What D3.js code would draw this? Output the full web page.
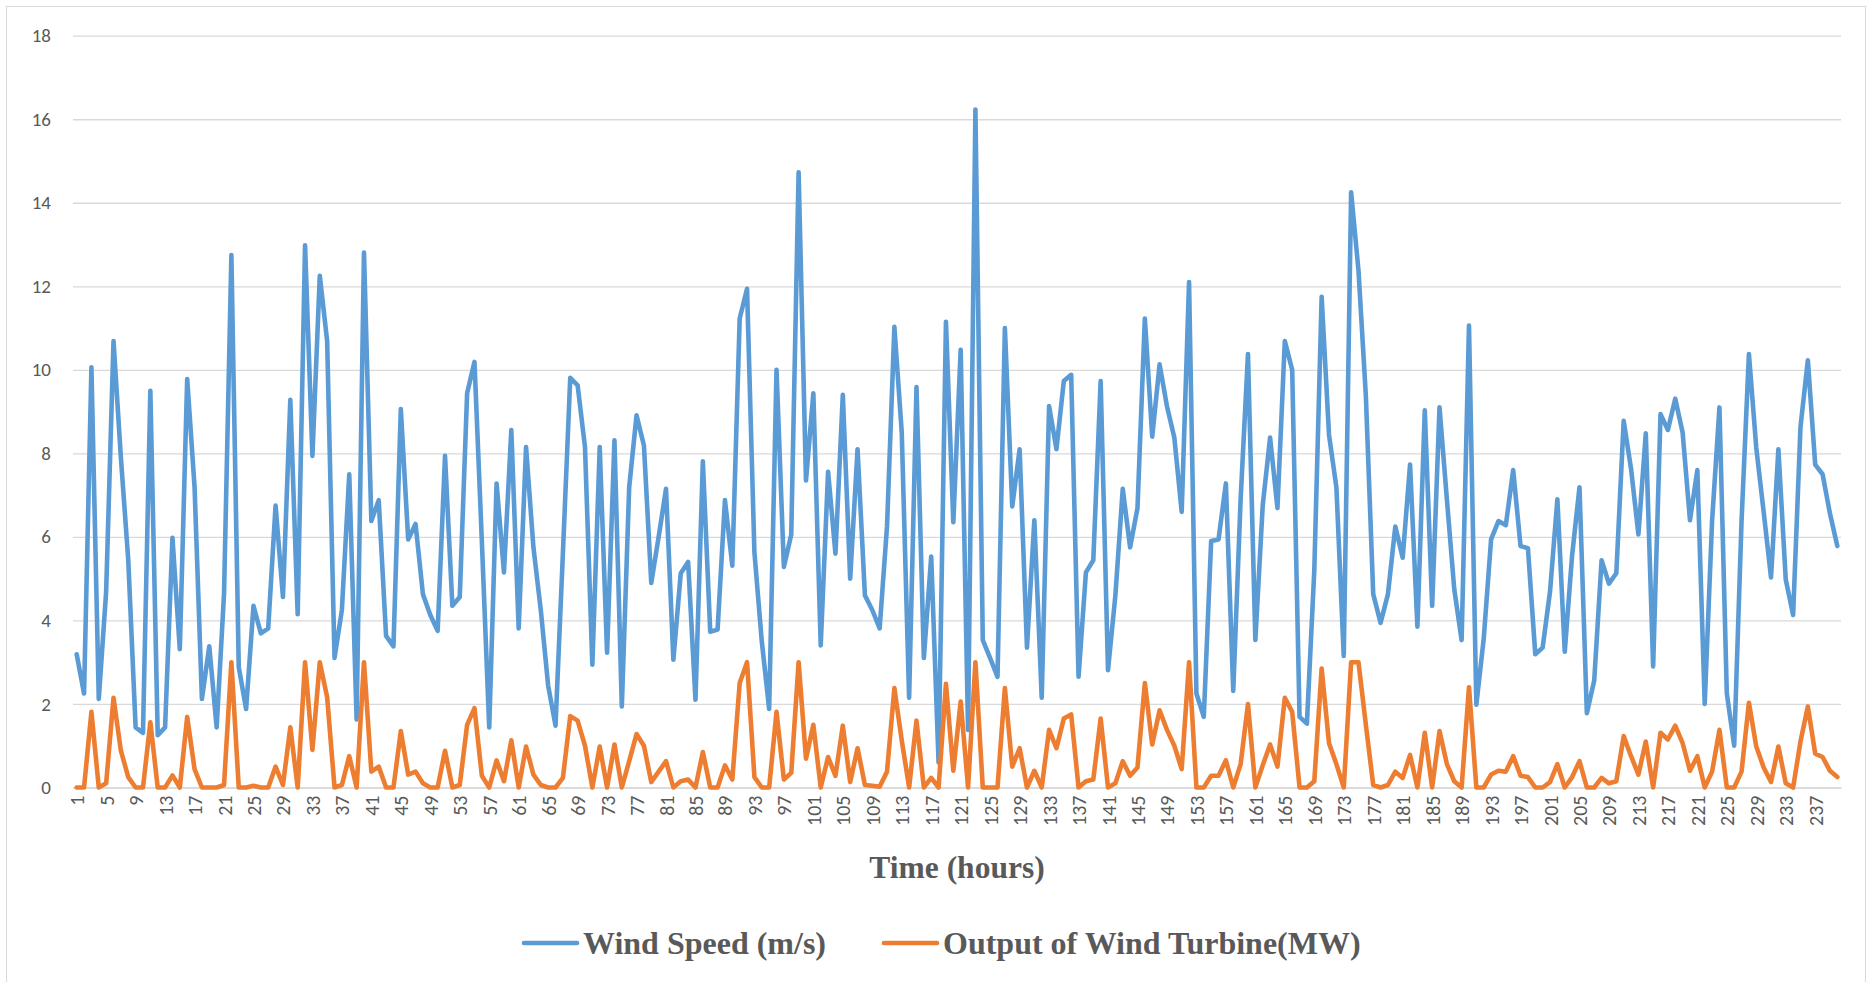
<!DOCTYPE html>
<html>
<head>
<meta charset="utf-8">
<script src="https://cdn.jsdelivr.net/npm/d3@7"></script>
<style>
  html, body { margin: 0; padding: 0; background: #ffffff; }
  svg { display: block; }
</style>
</head>
<body>
<svg id="chart" width="1868" height="982"></svg>
<script>
// ---- Data ----
const hours = d3.range(1, 241);

const windSpeed = [
  3.19,2.25,10.06,2.12,4.69,10.69,7.9,5.45,1.44,1.31,9.5,1.25,1.44,5.98,3.31,9.78,7.2,2.12,3.38,1.44,
  4.63,12.75,2.88,1.88,4.35,3.69,3.81,6.75,4.56,9.28,4.15,12.98,7.94,12.25,10.69,3.1,4.25,7.5,1.63,12.81,
  6.38,6.88,3.63,3.38,9.06,5.94,6.31,4.63,4.13,3.75,7.94,4.35,4.56,9.44,10.19,5.9,1.44,7.28,5.15,8.56,
  3.81,8.15,5.75,4.25,2.44,1.48,5.6,9.81,9.63,8.15,2.94,8.15,3.23,8.31,1.94,7.19,8.91,8.19,4.9,6.0,
  7.15,3.06,5.13,5.4,2.1,7.81,3.73,3.78,6.88,5.31,11.23,11.94,5.63,3.5,1.88,10.0,5.28,6.06,14.73,7.35,
  9.44,3.4,7.56,5.6,9.4,5.0,8.1,4.6,4.25,3.81,6.25,11.03,8.5,2.15,9.59,3.1,5.53,0.6,11.15,6.35,
  10.48,1.38,16.23,3.53,3.1,2.65,11.0,6.73,8.1,3.35,6.4,2.15,9.13,8.1,9.73,9.88,2.65,5.15,5.44,9.73,
  2.81,4.6,7.15,5.75,6.69,11.23,8.4,10.13,9.13,8.38,6.6,12.1,2.25,1.69,5.9,5.94,7.28,2.31,6.9,10.38,
  3.53,6.75,8.38,6.69,10.69,10.0,1.69,1.53,5.19,11.75,8.44,7.19,3.15,14.25,12.38,9.38,4.63,3.94,4.63,6.25,
  5.5,7.73,3.85,9.03,4.35,9.1,6.9,4.75,3.53,11.06,1.98,3.56,5.94,6.38,6.28,7.6,5.78,5.73,3.19,3.35,
  4.69,6.9,3.25,5.56,7.19,1.78,2.56,5.44,4.88,5.13,8.78,7.63,6.06,8.48,2.9,8.94,8.56,9.31,8.5,6.4,
  7.6,2.0,6.38,9.1,2.25,1.0,6.38,10.38,8.13,6.6,5.03,8.1,4.98,4.13,8.63,10.23,7.73,7.5,6.56,5.78
];

const turbineOutput = [
  0,0,1.81,0,0.1,2.15,0.88,0.25,0,0,1.56,0,0,0.29,0,1.69,0.44,0,0,0,
  0.06,3.0,0,0,0.04,0,0,0.5,0.06,1.44,0,3.0,0.9,3.0,2.16,0,0.06,0.75,0,3.0,
  0.38,0.5,0,0,1.35,0.31,0.38,0.1,0,0,0.88,0,0.06,1.5,1.9,0.28,0,0.65,0.15,1.13,
  0,0.98,0.31,0.06,0,0,0.23,1.71,1.6,1.0,0,0.98,0,1.03,0,0.63,1.28,1.0,0.13,0.38,
  0.63,0,0.15,0.19,0,0.85,0,0,0.53,0.19,2.5,3.0,0.25,0,0,1.81,0.19,0.35,3.0,0.69,
  1.5,0,0.73,0.28,1.48,0.13,0.94,0.06,0.04,0.02,0.38,2.38,1.13,0,1.6,0,0.23,0,2.48,0.4,
  2.06,0,3.0,0,0,0,2.38,0.5,0.94,0,0.4,0,1.38,0.94,1.65,1.75,0,0.15,0.19,1.65,
  0,0.1,0.63,0.28,0.48,2.5,1.03,1.85,1.38,1.0,0.44,3.0,0,0,0.28,0.28,0.65,0,0.56,2.0,
  0,0.53,1.03,0.5,2.15,1.81,0,0,0.15,2.85,1.06,0.56,0,3.0,3.0,1.5,0.06,0,0.06,0.38,
  0.23,0.78,0,1.31,0,1.35,0.56,0.15,0,2.4,0,0,0.31,0.4,0.38,0.75,0.28,0.25,0,0,
  0.13,0.56,0,0.25,0.63,0,0,0.23,0.1,0.15,1.23,0.75,0.31,1.1,0,1.31,1.15,1.48,1.06,0.4,
  0.75,0,0.38,1.38,0,0,0.38,2.03,0.98,0.48,0.13,0.98,0.1,0,1.1,1.94,0.81,0.73,0.4,0.25
];

const yTicks = [0, 2, 4, 6, 8, 10, 12, 14, 16, 18];
const xTickLabels = hours.filter(h => (h - 1) % 4 === 0);
const seriesNames = ["Wind Speed (m/s)", "Output of Wind Turbine(MW)"];
const seriesColors = ["#5b9bd5", "#ed7d31"];
const axisTitle = "Time (hours)";

// ---- Drawing ----
const svg = d3.select("#chart");
const W = 1868, H = 982;
const plot = { left: 73, right: 1841, top: 35.7, bottom: 787.5 };

svg.append("rect")
  .attr("x", 6.5).attr("y", 6.5)
  .attr("width", W - 9).attr("height", H - 5)
  .attr("fill", "#ffffff").attr("stroke", "#d9d9d9").attr("stroke-width", 1);

const x = d3.scalePoint().domain(hours).range([plot.left, plot.right]).padding(0.5);
const y = d3.scaleLinear().domain([0, 18]).range([plot.bottom, plot.top]);

// gridlines + y labels
const yAxis = d3.axisLeft(y).tickValues(yTicks).tickSize(-(plot.right - plot.left)).tickPadding(22);
const gy = svg.append("g").attr("transform", `translate(${plot.left},0)`).call(yAxis);
gy.select(".domain").remove();
gy.selectAll(".tick line").attr("stroke", "#d9d9d9").attr("stroke-width", 1.3);
gy.selectAll(".tick text")
  .attr("fill", "#595959")
  .style("font-family", "Carlito, Lato, 'Liberation Sans', sans-serif")
  .style("font-size", "19px");

// x axis
const xAxis = d3.axisBottom(x).tickValues(xTickLabels).tickSize(0).tickPadding(0);
const gx = svg.append("g").attr("transform", `translate(0,${plot.bottom})`).call(xAxis);
gx.select(".domain").attr("stroke", "#d9d9d9").attr("stroke-width", 1.3);
gx.selectAll(".tick text")
  .attr("fill", "#595959")
  .style("font-family", "Carlito, Lato, 'Liberation Sans', sans-serif")
  .style("font-size", "20px")
  .attr("text-anchor", "end")
  .attr("transform", "translate(0,8) rotate(-90)")
  .attr("x", 0).attr("y", 0).attr("dy", "0.35em");

// lines
const line = d3.line().x((d, i) => x(hours[i])).y(d => y(d));
[windSpeed, turbineOutput].forEach((vals, k) => {
  svg.append("path")
    .datum(vals)
    .attr("fill", "none")
    .attr("stroke", seriesColors[k])
    .attr("stroke-width", 4.6)
    .attr("stroke-linejoin", "round")
    .attr("stroke-linecap", "round")
    .attr("d", line);
});

// axis title
svg.append("text")
  .attr("x", (plot.left + plot.right) / 2).attr("y", 878)
  .attr("text-anchor", "middle")
  .attr("fill", "#595959")
  .style("font-family", "'Liberation Serif', 'Times New Roman', serif")
  .style("font-weight", "bold")
  .style("font-size", "31.5px")
  .text(axisTitle);

// legend
const legendItems = [
  { x: 524, name: seriesNames[0], color: seriesColors[0] },
  { x: 884, name: seriesNames[1], color: seriesColors[1] }
];
const legY = 943;
legendItems.forEach(it => {
  svg.append("line")
    .attr("x1", it.x).attr("x2", it.x + 53)
    .attr("y1", legY).attr("y2", legY)
    .attr("stroke", it.color).attr("stroke-width", 4.6).attr("stroke-linecap", "round");
  svg.append("text")
    .attr("x", it.x + 59).attr("y", legY).attr("dy", "0.35em")
    .attr("fill", "#595959")
    .style("font-family", "'Liberation Serif', 'Times New Roman', serif")
    .style("font-weight", "bold")
    .style("font-size", "32px")
    .text(it.name);
});
</script>
</body>
</html>
